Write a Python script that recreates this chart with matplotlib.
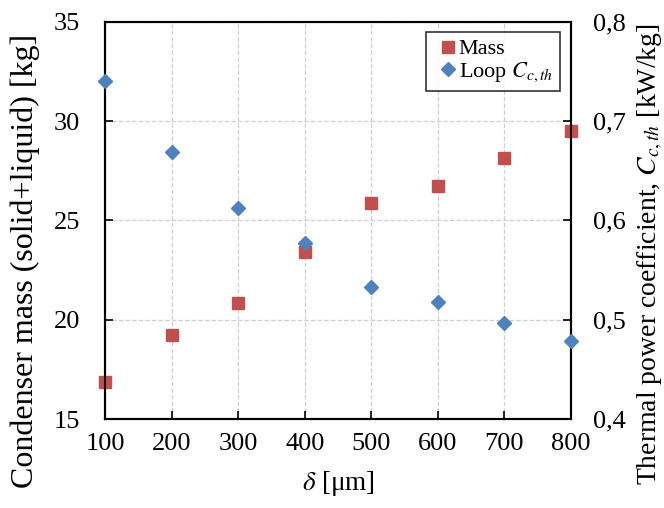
import matplotlib
matplotlib.use("Agg")
import matplotlib.pyplot as plt
from matplotlib.ticker import FuncFormatter

plt.rcParams['font.family'] = ['Liberation Serif', 'DejaVu Serif']
plt.rcParams['mathtext.fontset'] = 'stix'

delta = [100, 200, 300, 400, 500, 600, 700, 800]
mass = [16.87, 19.24, 20.83, 23.4, 25.89, 26.71, 28.15, 29.49]
loop_c = [0.740, 0.669, 0.612, 0.577, 0.533, 0.518, 0.497, 0.479]

left_ticks = [15, 20, 25, 30, 35]
right_ticks = [0.4, 0.5, 0.6, 0.7, 0.8]

fig = plt.figure(figsize=(6.64, 5.08), dpi=100)
ax = fig.add_axes([105/664, 1-419/508, (571-105)/664, (419-21.7)/508])
ax2 = ax.twinx()

red = '#C0504D'
blue = '#4F81BD'

ax.plot(delta, mass, linestyle='none', marker='s', markersize=8.5, color=red,
        label='Mass', zorder=3, clip_on=False)
ax2.plot(delta, loop_c, linestyle='none', marker='D', markersize=7.5, color=blue,
         label='Loop $C_{c,th}$', zorder=3, clip_on=False)

ax.set_xlim(100, 800)
ax.set_ylim(15, 35)
ax2.set_ylim(0.4, 0.8)
ax.set_xticks(delta)
ax.set_yticks(left_ticks)
ax2.set_yticks(right_ticks)
ax2.yaxis.set_major_formatter(FuncFormatter(lambda v, p: f"{v:.1f}".replace('.', ',')))

ax.grid(True, linestyle='--', color='#D0D0D0', linewidth=0.9)
ax.set_axisbelow(True)

for a in (ax, ax2):
    for s in a.spines.values():
        s.set_linewidth(1.5)
        s.set_color('black')
ax.spines['top'].set_color('#333333')

ax.tick_params(axis='y', direction='in', length=6, width=1.2, labelsize=19, pad=18)
ax.tick_params(axis='x', direction='in', length=6, width=1.2, labelsize=19, pad=10)
ax2.tick_params(axis='y', direction='in', length=6, width=1.2, labelsize=19, pad=16)

ax.set_xlabel(r'$\delta$ [μm]', fontsize=19.5, labelpad=10)
ax.set_ylabel('Condenser mass (solid+liquid) [kg]', fontsize=23)
ax.yaxis.set_label_coords((25 - 105) / 466, (419 - 261) / 397.3)
ax.yaxis.label.set_va('center')
ax2.set_ylabel('Thermal power coefficient, $C_{c,th}$ [kW/kg]', fontsize=20)
ax2.yaxis.set_label_coords((650 - 105) / 466, (419 - 254) / 397.3)
ax2.yaxis.label.set_va('center')

h1, l1 = ax.get_legend_handles_labels()
h2, l2 = ax2.get_legend_handles_labels()
leg = ax2.legend(h1 + h2, l1 + l2, loc='upper right', bbox_to_anchor=(1 - 11/466, 1 - 10/397),
                 fontsize=16, frameon=True, fancybox=False, edgecolor='black',
                 handlelength=1.3, handletextpad=-0.15, borderpad=0.32, labelspacing=0.05,
                 borderaxespad=0)
leg.get_frame().set_linewidth(1.2)

fig.savefig('out.png', dpi=100)
